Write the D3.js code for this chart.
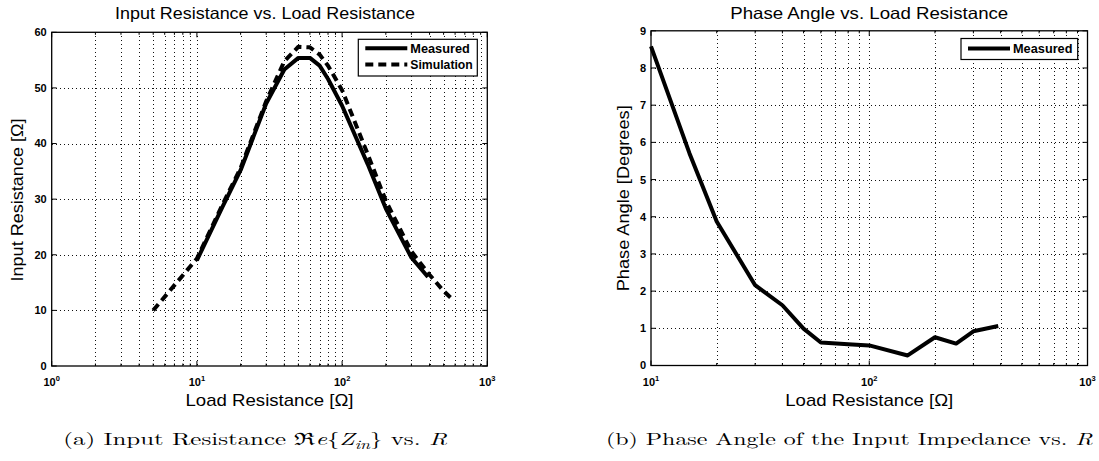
<!DOCTYPE html>
<html>
<head>
<meta charset="utf-8">
<script src="https://cdn.jsdelivr.net/npm/d3@7"></script>
<style>
  body { margin: 0; background: #fff; }
  svg { display: block; }
  text { font-family: "Liberation Sans", Arial, Helvetica, sans-serif; fill: #000; }
  .caption { font-family: "Latin Modern Roman", "CMU Serif", "Liberation Serif", "DejaVu Serif", serif; font-size: 17px; }
</style>
</head>
<body>
<div id="chart"></div>
<script>
// (a) input resistance vs load resistance
const measLoad = [10, 15, 20, 30, 40, 50, 60, 70, 80, 100, 150, 200, 300, 390];
const measInputR = [19, 28.6, 35.2, 47.2, 53.3, 55.4, 55.4, 54, 51.6, 46.8, 36.3, 28.3, 19.5, 16];
const simLoad = [5, 10, 15, 20, 30, 40, 50, 60, 70, 80, 100, 150, 200, 300, 400, 500, 590];
const simInputR = [10, 19.3, 29, 35.6, 47.6, 54.8, 57.4, 57.3, 56, 54, 49.6, 38.1, 29.7, 20.6, 16.4, 13.5, 11.7];

// (b) phase angle vs load resistance
const phaseLoad = [10, 15, 20, 30, 40, 50, 60, 80, 100, 150, 200, 250, 300, 390];
const phaseDeg = [8.58, 5.71, 3.87, 2.16, 1.62, 0.99, 0.62, 0.57, 0.54, 0.27, 0.76, 0.59, 0.92, 1.06];

const yTicksA = [0, 10, 20, 30, 40, 50, 60];
const yTicksB = [0, 1, 2, 3, 4, 5, 6, 7, 8, 9];

const svg = d3.select("#chart")
              .append("svg")
              .attr("width", 1099)
              .attr("height", 461);

function drawPanel(p) {
  const x = d3.scaleLog().domain(p.xDomain).range([p.left, p.right]);
  const y = d3.scaleLinear().domain(p.yDomain).range([p.bottom, p.top]);
  const g = svg.append("g");

  // dotted grid
  const xt = x.ticks().filter(d => d > p.xDomain[0] && d < p.xDomain[1]);
  g.selectAll(".gx").data(xt).enter().append("line")
   .attr("x1", d => Math.round(x(d)) + 0.5).attr("x2", d => Math.round(x(d)) + 0.5)
   .attr("y1", p.top).attr("y2", p.bottom)
   .attr("stroke", "#111").attr("stroke-width", 1)
   .attr("stroke-dasharray", "1,3")
   .attr("shape-rendering", "crispEdges");
  g.selectAll(".gy").data(p.yTicks.slice(1, -1)).enter().append("line")
   .attr("y1", d => Math.round(y(d)) + 0.5).attr("y2", d => Math.round(y(d)) + 0.5)
   .attr("x1", p.left).attr("x2", p.right)
   .attr("stroke", "#111").attr("stroke-width", 1)
   .attr("stroke-dasharray", "1,3")
   .attr("shape-rendering", "crispEdges");

  // ticks on all four sides, pointing inward
  const isMajor = d => Math.abs(Math.log10(d) - Math.round(Math.log10(d))) < 1e-9;
  x.ticks().forEach(d => {
    const len = isMajor(d) ? 5 : 2.5;
    g.append("line").attr("x1", x(d)).attr("x2", x(d))
     .attr("y1", p.bottom).attr("y2", p.bottom - len).attr("stroke", "#000");
    g.append("line").attr("x1", x(d)).attr("x2", x(d))
     .attr("y1", p.top).attr("y2", p.top + len).attr("stroke", "#000");
  });
  p.yTicks.forEach(d => {
    g.append("line").attr("x1", p.left).attr("x2", p.left + 5)
     .attr("y1", y(d)).attr("y2", y(d)).attr("stroke", "#000");
    g.append("line").attr("x1", p.right).attr("x2", p.right - 5)
     .attr("y1", y(d)).attr("y2", y(d)).attr("stroke", "#000");
  });

  // tick labels
  g.selectAll(".yl").data(p.yTicks).enter().append("text")
   .attr("x", p.left - 5).attr("y", d => y(d)).attr("dy", "0.36em")
   .attr("text-anchor", "end")
   .style("font-size", "11px").style("font-weight", "bold")
   .text(d => d);
  const dec = x.ticks().filter(isMajor);
  const xl = g.selectAll(".xl").data(dec).enter().append("text")
   .attr("x", d => x(d)).attr("y", p.bottom + 20)
   .attr("text-anchor", "middle")
   .style("font-size", "11px").style("font-weight", "bold");
  xl.append("tspan").text("10");
  xl.append("tspan").attr("dy", -5).style("font-size", "7.5px")
    .text(d => Math.round(Math.log10(d)));

  // series
  const line = d3.line().x(d => x(d[0])).y(d => y(d[1]));
  p.series.forEach(s => {
    g.append("path")
     .datum(d3.zip(s.x, s.y))
     .attr("d", line)
     .attr("fill", "none")
     .attr("stroke", "#000")
     .attr("stroke-width", 4)
     .attr("stroke-linejoin", "round")
     .attr("stroke-dasharray", s.dash || null);
  });

  // frame
  g.append("rect")
   .attr("x", p.left).attr("y", p.top)
   .attr("width", p.right - p.left).attr("height", p.bottom - p.top)
   .attr("fill", "none").attr("stroke", "#000").attr("stroke-width", 1.3);

  // legend
  const L = p.legend;
  g.append("rect")
   .attr("x", L.x0).attr("y", L.y0)
   .attr("width", L.x1 - L.x0).attr("height", L.y1 - L.y0)
   .attr("fill", "#fff").attr("stroke", "#000").attr("stroke-width", 1.2);
  p.series.forEach((s, i) => {
    const ry = L.rowY + i * 16.2;
    g.append("line")
     .attr("x1", L.x0 + 7).attr("x2", L.x0 + 49)
     .attr("y1", ry).attr("y2", ry)
     .attr("stroke", "#000").attr("stroke-width", 4)
     .attr("stroke-dasharray", s.dash || null);
    g.append("text")
     .attr("x", L.x0 + 52).attr("y", ry).attr("dy", "0.36em")
     .attr("textLength", s.textLen).attr("lengthAdjust", "spacingAndGlyphs")
     .style("font-size", "12px").style("font-weight", "bold")
     .text(s.name);
  });

  // titles and axis labels
  const cx = (p.left + p.right) / 2;
  g.append("text")
   .attr("x", cx - p.titleShift).attr("y", 18.5).attr("text-anchor", "middle")
   .attr("textLength", p.titleLen).attr("lengthAdjust", "spacingAndGlyphs")
   .style("font-size", "16.5px").text(p.title);
  g.append("text")
   .attr("x", cx).attr("y", 406).attr("text-anchor", "middle")
   .attr("textLength", 168).attr("lengthAdjust", "spacingAndGlyphs")
   .style("font-size", "17px").text("Load Resistance [Ω]");
  g.append("text")
   .attr("transform", `translate(${p.yLabelX},${p.yLabelY}) rotate(-90)`)
   .attr("text-anchor", "middle")
   .attr("textLength", p.yLabelLen).attr("lengthAdjust", "spacingAndGlyphs")
   .style("font-size", "17px").text(p.yLabel);
}

drawPanel({
  left: 51.7, right: 487.3, top: 32.3, bottom: 366,
  xDomain: [1, 1000], yDomain: [0, 60], yTicks: yTicksA,
  series: [
    {name: "Measured", x: measLoad, y: measInputR, textLen: 59.5},
    {name: "Simulation", x: simLoad, y: simInputR, dash: "8,5", textLen: 62.5}
  ],
  legend: {x0: 358.3, x1: 477.3, y0: 39.3, y1: 76, rowY: 48.3},
  title: "Input Resistance vs. Load Resistance", titleLen: 300, titleShift: 4.5,
  yLabel: "Input Resistance [Ω]", yLabelX: 22.5, yLabelY: 200, yLabelLen: 163
});

drawPanel({
  left: 651, right: 1087.5, top: 30.8, bottom: 365.5,
  xDomain: [10, 1000], yDomain: [0, 9], yTicks: yTicksB,
  series: [
    {name: "Measured", x: phaseLoad, y: phaseDeg, textLen: 59.5}
  ],
  legend: {x0: 961, x1: 1077.7, y0: 38.5, y1: 59.5, rowY: 48.5},
  title: "Phase Angle vs. Load Resistance", titleLen: 278, titleShift: 0,
  yLabel: "Phase Angle [Degrees]", yLabelX: 628.5, yLabelY: 198.3, yLabelLen: 186
});

// sub-figure captions, stretched sideways to the width they take in the figure
function caption(x0, width, build) {
  const t = svg.append("text").attr("class", "caption");
  build(t);
  const natural = t.node().getComputedTextLength();
  const sx = width / natural;
  t.attr("transform", `translate(${x0},445) scale(${sx},1)`);
  return t;
}

caption(63.3, 383.4, t => {
  t.append("tspan").text("(a) Input Resistance ");
  t.append("tspan").text("ℜ");
  t.append("tspan").style("font-style", "italic").text("e");
  t.append("tspan").text("{");
  t.append("tspan").style("font-style", "italic").text("Z");
  t.append("tspan").attr("dy", 4).style("font-style", "italic").style("font-size", "12px").text("in");
  t.append("tspan").attr("dy", -4).text("}");
  t.append("tspan").text(" vs. ");
  t.append("tspan").style("font-style", "italic").text("R");
});

const capB = caption(606, 461.5, t => {
  t.append("tspan").text("(b) Phase Angle of the Input Impedance vs.");
});
capB.append("tspan").text(" ");
capB.append("tspan").style("font-style", "italic").text("R");
</script>
</body>
</html>
